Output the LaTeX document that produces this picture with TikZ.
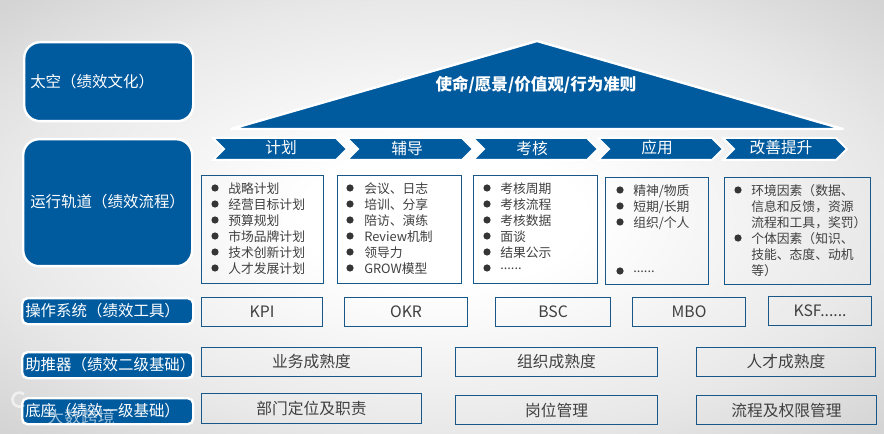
\documentclass[tikz,border=0pt]{standalone}
\usepackage{fontspec}
\setmainfont{Noto Sans CJK SC}
\usepackage{xcolor}
\usetikzlibrary{positioning}
\definecolor{bandblue}{RGB}{0,90,158}
\definecolor{edgeblue}{RGB}{24,88,136}
\definecolor{inkgray}{RGB}{64,64,64}
\pgfdeclareradialshading{pagebg}{\pgfpoint{0bp}{0bp}}{color(0bp)=(white);color(8bp)=(white);color(25bp)=(black!9);color(35bp)=(black!17);color(50bp)=(black!17)}
\newcommand{\moredots}{......}
\tikzset{
  bandlabel/.style={rectangle,rounded corners=12pt,draw=white,line width=1.8pt,
    fill=bandblue,text=white,font=\fontsize{11.6pt}{13pt}\selectfont,
    anchor=north west,inner sep=0pt},
  baselabel/.style={bandlabel,rounded corners=4pt},
  bandtext/.style={text=white,font=\fontsize{11.6pt}{13pt}\selectfont,anchor=west,inner sep=0pt,yshift=-.6pt},
  stage/.style={fill=bandblue,draw=white,line width=1.5pt},
  stagetext/.style={text=white,font=\fontsize{11.8pt}{13pt}\selectfont,inner sep=0pt},
  toolbox/.style={rectangle,draw=edgeblue,line width=.8pt,text=inkgray,anchor=north west,
    font=\fontsize{11.8pt}{13pt}\selectfont,inner sep=0pt},
  itemtext/.style={text=inkgray,anchor=west,inner sep=0pt,yshift=-.6pt,
    font=\fontsize{9.6pt}{12pt}\selectfont},
  dotmark/.style={fill=inkgray!85!black}}
\begin{document}
\begin{tikzpicture}[x=.75pt,y=-.75pt]
  \useasboundingbox (0,0) rectangle (884,434);
  \shade[shading=pagebg] (0,0) rectangle (884,434);
  % left column
  \node[bandlabel,minimum width=169*.75pt,minimum height=79*.75pt] (space) at (23,41) {};
  \node[bandtext] (spacetext) at (30,81) {太空（绩效文化）};
  \node[bandlabel,minimum width=169*.75pt,minimum height=127*.75pt] (orbit) at (22,138) {};
  \node[bandtext] (orbittext) at (30,201) {运行轨道（绩效流程）};
  \node[baselabel,minimum width=171*.75pt,minimum height=26*.75pt] (system) at (21,297) {};
  \node[bandtext] (systemtext) at (25,310) {操作系统（绩效工具）};
  \node[baselabel,minimum width=171*.75pt,minimum height=26*.75pt] (boost) at (21,351) {};
  \node[bandtext] (boosttext) at (25,364) {助推器（绩效二级基础）};
  \node[baselabel,minimum width=171*.75pt,minimum height=26*.75pt] (pedestal) at (21,397) {};
  \node[bandtext] (pedestaltext) at (25,410) {底座（绩效一级基础）};
  % roof
  \draw[fill=bandblue,draw=white,line width=1.8pt,line join=round] (537,41) -- (843,129) -- (231,129) -- cycle;
  \node[text=white,inner sep=0pt,font=\fontsize{12.4pt}{14pt}\selectfont\bfseries] (roof) at (536,85) {使命/愿景/价值观/行为准则};
  % process chevrons
  \foreach \tipx/\len/\lab [count=\i] in {347/134/计划,473/126/辅导,598/125/考核,723/125/应用,847/124/改善提升}{
    \draw[stage] (\tipx-\len,138) -- (\tipx-11,138) -- (\tipx,149) -- (\tipx-11,160)
      -- (\tipx-\len,160) -- (\tipx-\len+11,149) -- cycle;
    \node[stagetext] (stage\i) at (\tipx-66,148) {\lab};
  }
  % content boxes
  \node[toolbox,minimum width=122*.75pt,minimum height=108*.75pt] (plan) at (201,175) {};
  \node[toolbox,minimum width=124*.75pt,minimum height=108*.75pt] (coach) at (337,175) {};
  \node[toolbox,minimum width=124*.75pt,minimum height=108*.75pt] (review) at (473,175) {};
  \node[toolbox,minimum width=103*.75pt,minimum height=107*.75pt] (apply) at (605,177) {};
  \node[toolbox,minimum width=146*.75pt,minimum height=107*.75pt] (improve) at (724,177) {};
  \foreach \itm [count=\i] in {战略计划,经营目标计划,预算规划,市场品牌计划,技术创新计划,人才发展计划}{
    \fill[dotmark] (215,172+16*\i) circle (3.6);
    \node[itemtext] (plan\i) at (228,172+16*\i) {\itm};
  }
  \foreach \itm [count=\i] in {会议、日志,培训、分享,陪访、演练,Review机制,领导力,GROW模型}{
    \fill[dotmark] (350,172+16*\i) circle (3.6);
    \node[itemtext] (coach\i) at (364,172+16*\i) {\itm};
  }
  \foreach \itm [count=\i] in {考核周期,考核流程,考核数据,面谈,结果公示,\moredots}{
    \fill[dotmark] (487,172+16*\i) circle (3.6);
    \node[itemtext] (review\i) at (500,172+16*\i) {\itm};
  }
  \foreach \y/\itm [count=\i] in {190/{精神/物质},206/{短期/长期},222/{组织/个人},271/\moredots}{
    \fill[dotmark] (620,\y) circle (3.6);
    \node[itemtext] (apply\i) at (633,\y) {\itm};
  }
  \foreach \itm [count=\i] in {环境因素（数据、,信息和反馈，资源,流程和工具，奖罚）,个体因素（知识、,技能、态度、动机,等）}{
    \node[itemtext] (improve\i) at (751,174+16*\i) {\itm};
  }
  \fill[dotmark] (738,190) circle (3.6);
  \fill[dotmark] (738,238) circle (3.6);
  % tools
  \node[toolbox,minimum width=121*.75pt,minimum height=29*.75pt] (kpi) at (201,297) {KPI};
  \node[toolbox,minimum width=123*.75pt,minimum height=29*.75pt] (okr) at (344,297) {OKR};
  \node[toolbox,minimum width=115*.75pt,minimum height=29*.75pt] (bsc) at (495,297) {BSC};
  \node[toolbox,minimum width=113*.75pt,minimum height=29*.75pt] (mbo) at (632,297) {MBO};
  \node[toolbox,minimum width=103*.75pt,minimum height=29*.75pt] (ksf) at (768,296) {KSF......};
  % maturity
  \node[toolbox,minimum width=220*.75pt,minimum height=29*.75pt] (bizmature) at (201,347) {业务成熟度};
  \node[toolbox,minimum width=202*.75pt,minimum height=29*.75pt] (orgmature) at (455,347) {组织成熟度};
  \node[toolbox,minimum width=179*.75pt,minimum height=29*.75pt] (talentmature) at (696,347) {人才成熟度};
  % foundations
  \node[toolbox,minimum width=220*.75pt,minimum height=30*.75pt] (dept) at (201,393) {部门定位及职责};
  \node[toolbox,minimum width=202*.75pt,minimum height=29*.75pt] (post) at (455,395) {岗位管理};
  \node[toolbox,minimum width=180*.75pt,minimum height=29*.75pt] (rights) at (696,395) {流程及权限管理};
  % watermark
  \draw[white,opacity=.6,line width=2pt] (24,405) arc (50:310:7);
  \node[text=white,opacity=.6,inner sep=0pt,font=\fontsize{12.7pt}{14pt}\selectfont] (mark) at (81,417) {大数跨境};
\end{tikzpicture}
\end{document}
